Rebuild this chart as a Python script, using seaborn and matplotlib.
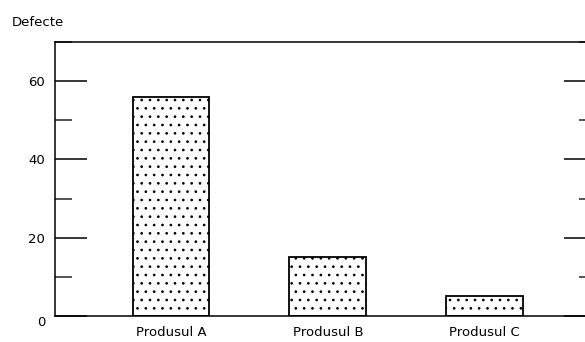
import matplotlib
matplotlib.use("Agg")
import matplotlib.pyplot as plt
import seaborn as sns
from matplotlib.ticker import MultipleLocator

sns.set_theme(style="ticks")
plt.rcParams["font.family"] = ["DejaVu Sans"]
plt.rcParams["hatch.linewidth"] = 0.7
plt.rcParams["hatch.color"] = "#444444"

# values
produse = ["Produsul A", "Produsul B", "Produsul C"]
defecte = [56, 15, 5]
y_ticks = [0, 20, 40, 60]

fig = plt.figure(figsize=(5.85, 3.42), dpi=100)
ax = fig.add_axes([0.094, 0.076, 0.925, 0.801])

sns.barplot(x=produse, y=defecte, color="white", saturation=1, width=0.49,
            edgecolor="black", linewidth=1.3, ax=ax)
for bar in ax.patches:
    bar.set_hatch("..")

ax.set_xlim(-0.74, 2.71)
ax.set_ylim(0, 70)
ax.set_yticks(y_ticks)
ax.yaxis.set_minor_locator(MultipleLocator(10))
ax.tick_params(axis="y", which="major", direction="in", length=23, width=1.1,
               left=True, right=True, labelsize=9.5, pad=7, colors="black")
ax.tick_params(axis="y", which="minor", direction="in", length=12, width=1.1,
               left=True, right=True)
ax.tick_params(axis="x", length=0, labelsize=9.5, pad=7, colors="black")
ax.get_yticklabels()[0].set_verticalalignment("top")
for s in ax.spines.values():
    s.set_linewidth(1.1)
    s.set_color("black")

ax.set_xlabel("")
ax.set_ylabel("")
fig.text(0.02, 0.925, "Defecte", fontsize=9.5, color="black")

fig.savefig("out.png", dpi=100)
